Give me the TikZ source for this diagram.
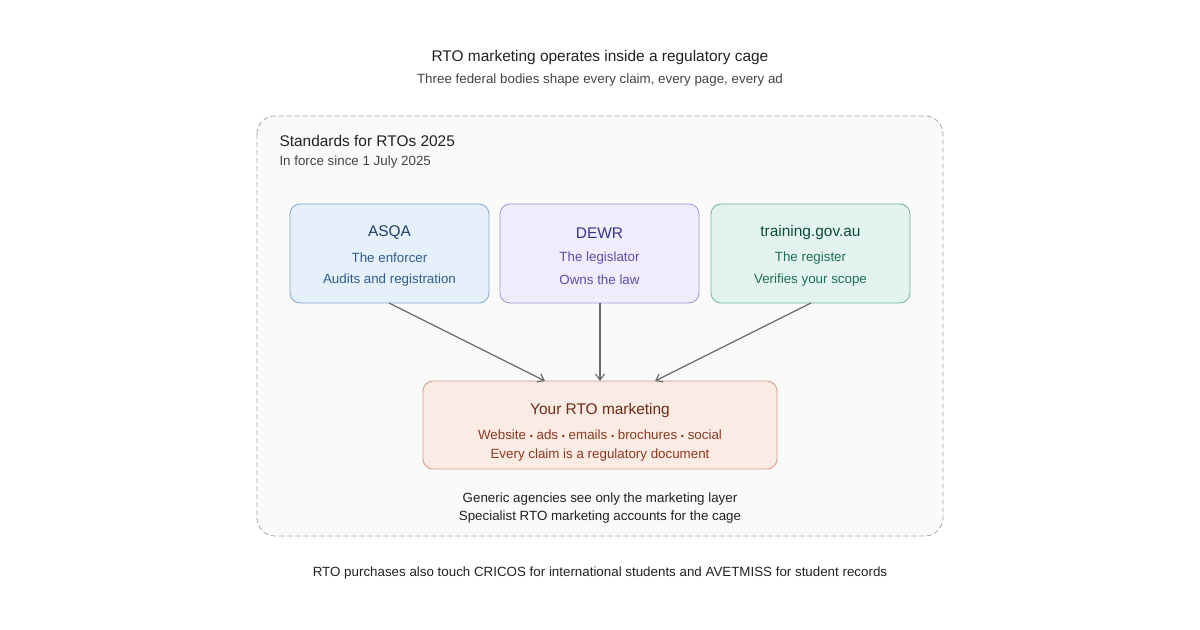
\documentclass[tikz,border=0pt]{standalone}
\usepackage{fontspec}
\setmainfont{Liberation Sans}
\usetikzlibrary{arrows.meta}
\definecolor{aF}{HTML}{E6F0FA}\definecolor{aD}{HTML}{7FA7CF}\definecolor{aT}{HTML}{1F3F66}\definecolor{aS}{HTML}{2E5E8E}
\definecolor{dF}{HTML}{EEEDFB}\definecolor{dD}{HTML}{9C98D4}\definecolor{dT}{HTML}{3A3380}\definecolor{dS}{HTML}{5A4FA6}
\definecolor{tF}{HTML}{E3F4EC}\definecolor{tD}{HTML}{6FB39A}\definecolor{tT}{HTML}{0F4D3A}\definecolor{tS}{HTML}{1E7055}
\definecolor{mF}{HTML}{FAEBE5}\definecolor{mD}{HTML}{D49A82}\definecolor{mT}{HTML}{6B2A14}\definecolor{mS}{HTML}{8A3A1E}
\definecolor{ink}{HTML}{222222}\definecolor{sub}{HTML}{444444}
\begin{document}
\begin{tikzpicture}[x=1bp,y=-1bp,
  big/.style={font=\fontsize{15.5}{18}\selectfont},
  small/.style={font=\fontsize{13.4}{16}\selectfont},
  box/.style={draw=#1D,fill=#1F,rounded corners=10bp,line width=0.8bp},
  arr/.style={draw=black!58,line width=1.2bp,-{Straight Barb[length=6bp,width=9bp]}}]
\useasboundingbox (0,0) rectangle (1200,630);
\fill[white] (0,0) rectangle (1200,630);
\node[big,text=ink] (title) at (600,58) {RTO marketing operates inside a regulatory cage};
\node[small,text=sub] (subtitle) at (600,80) {Three federal bodies shape every claim, every page, every ad};
\draw[black!35,dashed,dash pattern=on 5bp off 3bp,fill=black!2,rounded corners=18bp,line width=0.8bp] (257,116) rectangle (943,536);
\node[big,text=ink,anchor=west] (std) at (276,141) {Standards for RTOs 2025};
\node[small,text=sub,anchor=west] (force) at (276,162) {In force since 1 July 2025};
\draw[box=a] (290,204) rectangle (489,303);
\node (asqa) at (389.5,253.5) {};
\node[big,text=aT] at (389.5,233) {ASQA};
\node[small,text=aS] at (389.5,258) {The enforcer};
\node[small,text=aS] at (389.5,280) {Audits and registration};
\draw[box=d] (500,204) rectangle (699,303);
\node (dewr) at (599.5,253.5) {};
\node[big,text=dT] at (599.5,233) {DEWR};
\node[small,text=dS] at (599.5,258) {The legislator};
\node[small,text=dS] at (599.5,280) {Owns the law};
\draw[box=t] (711,204) rectangle (910,303);
\node (tga) at (810.5,253.5) {};
\node[big,text=tT] at (810.5,233) {training.gov.au};
\node[small,text=tS] at (810.5,258) {The register};
\node[small,text=tS] at (810.5,280) {Verifies your scope};
\draw[box=m] (423,381) rectangle (777,469);
\node (mkt) at (600,425) {};
\node[big,text=mT] at (600,411) {Your RTO marketing};
\node[small,text=mS] at (600,435) {Website {\fontsize{9}{10}\selectfont•} ads {\fontsize{9}{10}\selectfont•} emails {\fontsize{9}{10}\selectfont•} brochures {\fontsize{9}{10}\selectfont•} social};
\node[small,text=mS] at (600,455) {Every claim is a regulatory document};
\coordinate (a1) at (389,303);\coordinate (a2) at (545,381);
\coordinate (d1) at (600,303);\coordinate (d2) at (600,381);
\coordinate (t1) at (811,303);\coordinate (t2) at (655,381);
\draw[arr] (a1) -- (a2);
\draw[arr] (d1) -- (d2);
\draw[arr] (t1) -- (t2);
\node[small,text=ink] (g1) at (600,499) {Generic agencies see only the marketing layer};
\node[small,text=ink] (g2) at (600,517) {Specialist RTO marketing accounts for the cage};
\node[small,text=ink] (foot) at (600,573) {RTO purchases also touch CRICOS for international students and AVETMISS for student records};
\end{tikzpicture}
\end{document}
